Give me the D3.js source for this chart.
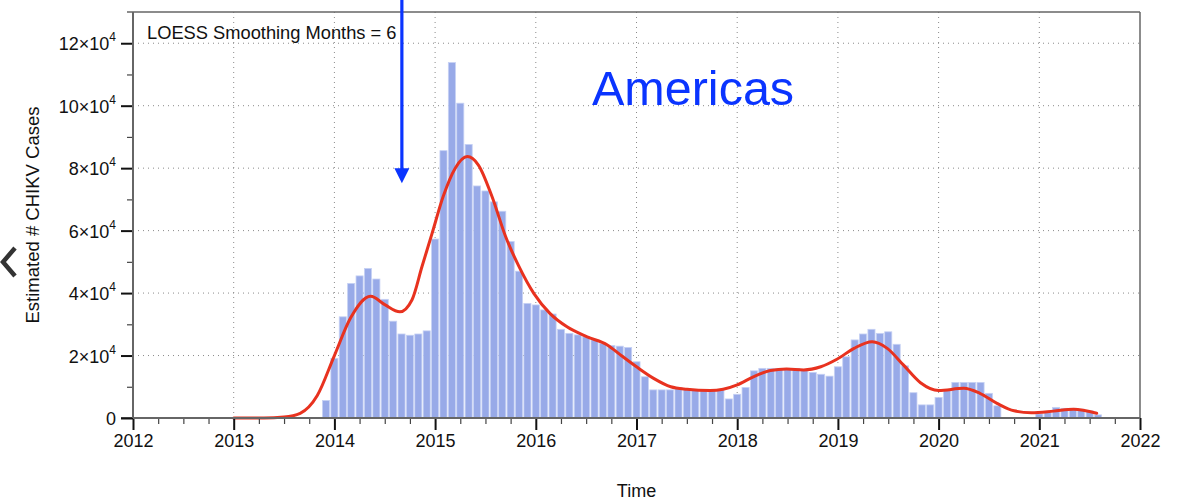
<!DOCTYPE html>
<html>
<head>
<meta charset="utf-8">
<script src="https://cdn.jsdelivr.net/npm/d3@7"></script>
<style>
  html, body { margin: 0; padding: 0; background: #fff; }
  svg { display: block; font-family: "Liberation Sans", Arial, Helvetica, sans-serif; }
</style>
</head>
<body>
<svg id="chart" width="1179" height="500"></svg>
<script>
// ---------- DATA ----------
const barStartYear = 2013;
const barStartMonth = 11; // December (0-based)
const barValues = [
  5600,
  19100, 32400, 43100, 45500, 47900, 44500, 38000, 31000, 26900, 26500, 26900, 27900,
  57300, 85600, 113800, 100800, 87600, 74300, 72700, 69200, 66200, 56500, 47000, 36700,
  36200, 34600, 33300, 28400, 27100, 26600, 26000, 25000, 23900, 23200, 23000, 22600,
  18000, 13200, 9000, 9000, 9000, 9800, 9200, 9000, 8800, 8800, 9000, 6100,
  7600, 9800, 15100, 15900, 15900, 15900, 15900, 15900, 15400, 14600, 14000, 13400,
  16400, 19600, 25000, 26900, 28400, 27100, 27600, 23600, 16700, 8100, 4200, 4200,
  6600, 9000, 11400, 11400, 11400, 11400, 7900, 3900, 0, 0, 0, 0,
  1300, 2000, 3400, 3100, 3100, 2800, 2300, 1000
];
const loessYears = [2013.0, 2013.3, 2013.5, 2013.66, 2013.83, 2014.0, 2014.16, 2014.36, 2014.5, 2014.65,
  2014.77, 2014.87, 2014.97, 2015.08, 2015.2, 2015.32, 2015.43, 2015.565, 2015.7, 2015.83,
  2015.98, 2016.14, 2016.31, 2016.51, 2016.71, 2016.84, 2017.0, 2017.17, 2017.34, 2017.5,
  2017.73, 2017.86, 2018.0, 2018.16, 2018.33, 2018.49, 2018.66, 2018.83, 2018.99, 2019.16,
  2019.34, 2019.49, 2019.65, 2019.82, 2020.0, 2020.25, 2020.41, 2020.58, 2020.75, 2020.92,
  2021.14, 2021.34, 2021.57];
const loessValues = [0, 0, 300, 1500, 7200, 20000, 32000, 39000, 36300, 34000,
  37800, 48500, 59100, 70900, 80000, 83700, 81000, 70900, 58100, 48700,
  39900, 33500, 29200, 26000, 23400, 20200, 16400, 12700, 10000, 9200,
  8800, 9200, 10600, 13200, 15200, 15700, 15400, 16400, 18800, 22300,
  24400, 22300, 17000, 11300, 8800, 9500, 7900, 4700, 2300, 1700,
  2200, 2800, 1500];
const xTickYears = [2012, 2013, 2014, 2015, 2016, 2017, 2018, 2019, 2020, 2021, 2022];
const yTickMantissa = [0, 2, 4, 6, 8, 10, 12];
const yMax = 130000;
const smoothingLabel = "LOESS Smoothing Months = 6";
const regionLabel = "Americas";
const xTitle = "Time";
const yTitle = "Estimated # CHIKV Cases";
const arrowYear = 2014.67;
const arrowTipValue = 75200;

// ---------- LAYOUT ----------
const svg = d3.select("#chart");
const L = 133, R = 1140, T = 12, B = 418;
const x = d3.scaleLinear().domain([2012, 2022]).range([L, R]);
const y = d3.scaleLinear().domain([0, yMax]).range([B, T]);
const font = 18;

const bars = barValues.map((v, i) => {
  const m = barStartMonth + i;
  return { t: barStartYear + m / 12, v };
});

// grid
const grid = svg.append("g");
grid.selectAll("line.gx").data(xTickYears.slice(1, -1)).join("line")
  .attr("x1", d => x(d)).attr("x2", d => x(d)).attr("y1", T).attr("y2", B)
  .attr("stroke", "#8a8a8a").attr("stroke-width", 1).attr("stroke-dasharray", "1,4");
grid.selectAll("line.gy").data(yTickMantissa.slice(1)).join("line")
  .attr("x1", L).attr("x2", R).attr("y1", d => y(d * 1e4)).attr("y2", d => y(d * 1e4))
  .attr("stroke", "#8a8a8a").attr("stroke-width", 1).attr("stroke-dasharray", "1,4");

// bars
const monthW = x(2012 + 1 / 12) - x(2012);
const bw = monthW - 1.3;
svg.append("g").selectAll("rect").data(bars.filter(d => d.v > 0)).join("rect")
  .attr("x", d => x(d.t) - bw / 2)
  .attr("width", bw)
  .attr("y", d => y(d.v))
  .attr("height", d => B - y(d.v))
  .attr("fill", "#98aae8")
  .attr("stroke", "#c6d1f4")
  .attr("stroke-width", 0.8);

// loess curve
const pts = loessYears.map((t, i) => ({ t, v: loessValues[i] }));
svg.append("path").datum(pts)
  .attr("d", d3.line().x(d => x(d.t)).y(d => y(d.v)).curve(d3.curveMonotoneX))
  .attr("fill", "none").attr("stroke", "#e8321f").attr("stroke-width", 3)
  .attr("stroke-linejoin", "round").attr("stroke-linecap", "round");

// frame (top & right)
svg.append("line").attr("x1", L - 6).attr("x2", R).attr("y1", T).attr("y2", T)
  .attr("stroke", "#666").attr("stroke-width", 1.5);
svg.append("line").attr("x1", R).attr("x2", R).attr("y1", T).attr("y2", B)
  .attr("stroke", "#666").attr("stroke-width", 1.5);

// x axis
const xMinor = d3.range(2012, 2022.01, 0.25).filter(d => Math.abs(d - Math.round(d)) > 0.01);
const gx = svg.append("g").attr("transform", `translate(0,${B})`);
gx.call(d3.axisBottom(x).tickValues(xMinor).tickSize(6).tickFormat(""))
  .call(g => g.select(".domain").remove())
  .call(g => g.selectAll(".tick line").attr("stroke", "#444").attr("stroke-width", 1.2));
const gx2 = svg.append("g").attr("transform", `translate(0,${B})`);
gx2.call(d3.axisBottom(x).tickValues(xTickYears).tickSize(12).tickPadding(4).tickFormat(d3.format("d")))
  .call(g => g.select(".domain").remove())
  .call(g => g.selectAll(".tick line").attr("stroke", "#111").attr("stroke-width", 2))
  .call(g => g.selectAll(".tick text").attr("font-size", font).attr("fill", "#111")
    .attr("font-family", "Liberation Sans, Arial, sans-serif"));
svg.append("line").attr("x1", L - 12).attr("x2", R).attr("y1", B).attr("y2", B)
  .attr("stroke", "#666").attr("stroke-width", 2);

// y axis
const yMinor = d3.range(1, 13, 2).map(d => d * 1e4);
const gy = svg.append("g").attr("transform", `translate(${L},0)`);
gy.call(d3.axisLeft(y).tickValues(yMinor).tickSize(6).tickFormat(""))
  .call(g => g.select(".domain").remove())
  .call(g => g.selectAll(".tick line").attr("stroke", "#444").attr("stroke-width", 1.2));
const gy2 = svg.append("g").attr("transform", `translate(${L},0)`);
gy2.call(d3.axisLeft(y).tickValues(yTickMantissa.map(d => d * 1e4)).tickSize(12).tickPadding(4).tickFormat(""))
  .call(g => g.select(".domain").remove())
  .call(g => g.selectAll(".tick line").attr("stroke", "#111").attr("stroke-width", 2));
gy2.selectAll(".tick").each(function (d) {
  const m = d / 1e4;
  const t = d3.select(this).append("text")
    .attr("x", -17).attr("dy", "0.36em").attr("text-anchor", "end")
    .attr("font-size", font).attr("fill", "#111");
  if (m === 0) { t.text("0"); }
  else {
    t.append("tspan").text(m + "×10");
    t.append("tspan").attr("font-size", 12).attr("dy", "-0.75em").text("4");
  }
});
svg.append("line").attr("x1", L).attr("x2", L).attr("y1", T).attr("y2", B)
  .attr("stroke", "#666").attr("stroke-width", 2);

// titles
svg.append("text").attr("x", (L + R) / 2).attr("y", 497).attr("text-anchor", "middle")
  .attr("font-size", font).attr("fill", "#111").text(xTitle);
svg.append("text").attr("transform", `translate(39,${(T + B) / 2}) rotate(-90)`)
  .attr("text-anchor", "middle").attr("font-size", 18.5).attr("fill", "#111").text(yTitle);

// annotations
svg.append("text").attr("x", 147).attr("y", 38.5).attr("font-size", 18.3).attr("fill", "#111")
  .text(smoothingLabel);
svg.append("text").attr("x", 592).attr("y", 105).attr("font-size", 48.5).attr("fill", "#0a34ff")
  .text(regionLabel);

// arrow
const ax = x(arrowYear), tipY = y(arrowTipValue);
svg.append("line").attr("x1", ax).attr("x2", ax).attr("y1", 0).attr("y2", tipY - 12)
  .attr("stroke", "#0a34ff").attr("stroke-width", 3.2);
svg.append("path")
  .attr("d", `M${ax - 7.5},${tipY - 15} L${ax + 7.5},${tipY - 15} L${ax},${tipY} Z`)
  .attr("fill", "#0a34ff");

// left chevron (page artifact)
svg.append("path").attr("d", "M15,248 L3,262 L15,276")
  .attr("fill", "none").attr("stroke", "#333").attr("stroke-width", 4.5)
  .attr("stroke-linecap", "butt");
</script>
</body>
</html>
